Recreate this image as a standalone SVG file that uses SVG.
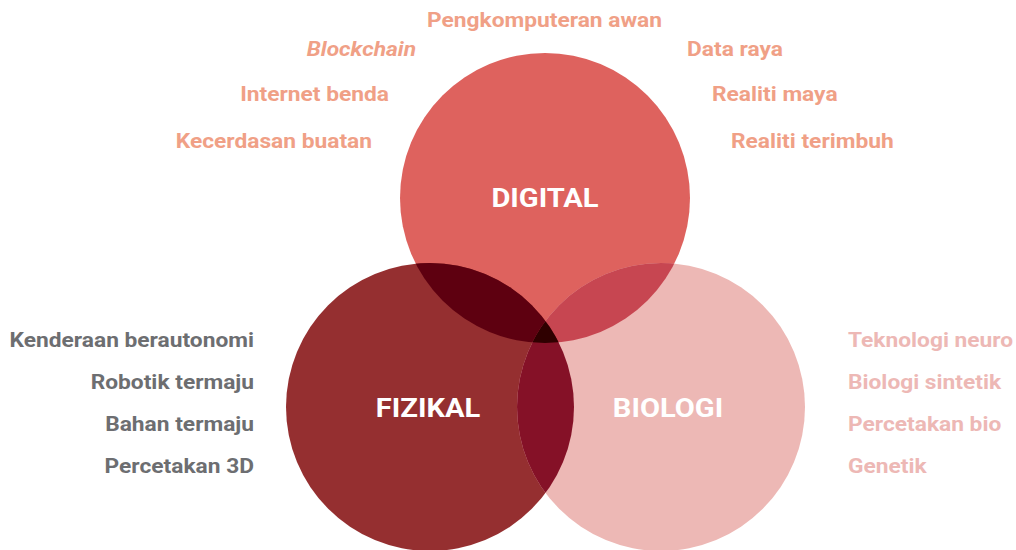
<svg xmlns="http://www.w3.org/2000/svg" width="1016" height="550" viewBox="0 0 1016 550">
<style>
text{font-family:Roboto,"Noto Sans","Liberation Sans",sans-serif;font-weight:700;font-size:20.5px}
.d{fill:#F0A086}
.f{fill:#6D6E71}
.b{fill:#EDB8B5}
.t{fill:#FFFFFF;font-size:26px;text-anchor:middle}
.r{text-anchor:end}
</style>
<defs>
<circle id="cD" cx="545" cy="198" r="145"/>
<circle id="cF" cx="430" cy="407" r="144"/>
<circle id="cB" cx="661" cy="407" r="144"/>
<clipPath id="clipD"><use href="#cD"/></clipPath>
<clipPath id="clipF"><use href="#cF"/></clipPath>
<clipPath id="clipB"><use href="#cB"/></clipPath>
</defs>
<g id="connectors"></g>
<g id="digital">
<use href="#cD" fill="#DE625E"/>
</g>
<g id="fizikal">
<use href="#cF" fill="#952F30"/>
</g>
<g id="biologi">
<use href="#cB" fill="#EDB8B5"/>
</g>
<g id="overlaps">
<use href="#cF" fill="#5E0010" clip-path="url(#clipD)"/>
<use href="#cB" fill="#C74651" clip-path="url(#clipD)"/>
<use href="#cB" fill="#851127" clip-path="url(#clipF)"/>
<g clip-path="url(#clipD)"><use href="#cB" fill="#2F0000" clip-path="url(#clipF)"/></g>
</g>
<g id="labels-circles">
<text class="t" transform="translate(545,207) scale(1.12,1)">DIGITAL</text>
<text class="t" transform="translate(428,417) scale(1.12,1)">FIZIKAL</text>
<text class="t" transform="translate(668,417) scale(1.12,1)">BIOLOGI</text>
</g>
<g id="labels-digital">
<text class="d" transform="translate(427,27) scale(1.11,1)">Pengkomputeran awan</text>
<text class="d r" transform="translate(416,56) scale(1.11,1)" font-style="italic">Blockchain</text>
<text class="d r" transform="translate(389,101) scale(1.11,1)">Internet benda</text>
<text class="d r" transform="translate(372,148) scale(1.11,1)">Kecerdasan buatan</text>
<text class="d" transform="translate(687,56) scale(1.11,1)">Data raya</text>
<text class="d" transform="translate(712,101) scale(1.11,1)">Realiti maya</text>
<text class="d" transform="translate(731,148) scale(1.11,1)">Realiti terimbuh</text>
</g>
<g id="labels-fizikal">
<text class="f r" transform="translate(254,347) scale(1.11,1)">Kenderaan berautonomi</text>
<text class="f r" transform="translate(254,389) scale(1.11,1)">Robotik termaju</text>
<text class="f r" transform="translate(254,431) scale(1.11,1)">Bahan termaju</text>
<text class="f r" transform="translate(254,473) scale(1.11,1)">Percetakan 3D</text>
</g>
<g id="labels-biologi">
<text class="b" transform="translate(848,347) scale(1.11,1)">Teknologi neuro</text>
<text class="b" transform="translate(848,389) scale(1.11,1)">Biologi sintetik</text>
<text class="b" transform="translate(848,431) scale(1.11,1)">Percetakan bio</text>
<text class="b" transform="translate(848,473) scale(1.11,1)">Genetik</text>
</g>
</svg>
